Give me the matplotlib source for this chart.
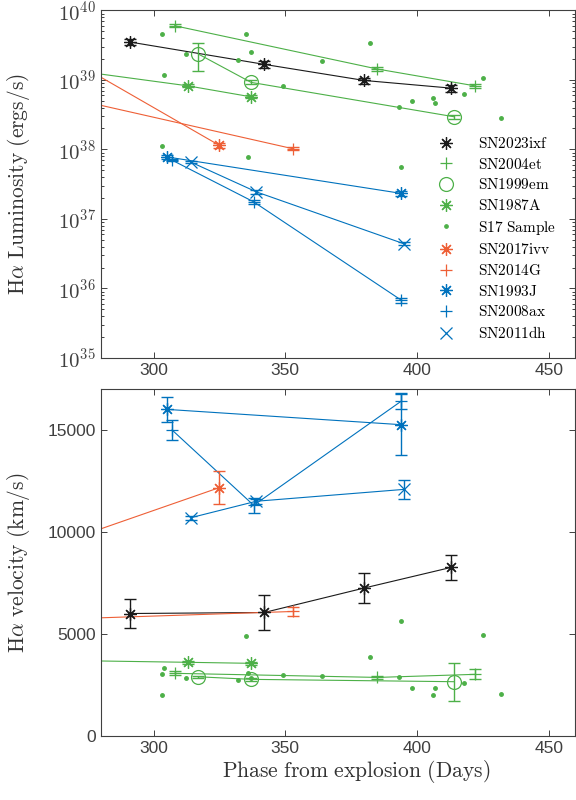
import numpy as np
import matplotlib
matplotlib.use("Agg")
import matplotlib.pyplot as plt
from matplotlib.lines import Line2D
from matplotlib.ticker import FixedLocator, LogLocator, FuncFormatter, NullFormatter

plt.rcParams["mathtext.fontset"] = "cm"
plt.rcParams["font.family"] = ["Liberation Sans", "DejaVu Sans"]

# ---------------------------------------------------------------- data
phase_min, phase_max = 280, 460

# SN2023ixf
ixf_phase = [291, 342, 380, 413]
ixf_lum = [3.5e39, 1.67e39, 9.8e38, 7.6e38]
ixf_lum_err = [0.38e39, 0.17e39, 0.10e39, 0.08e39]
ixf_vel = [6000, 6050, 7250, 8260]
ixf_vel_err = [690, 860, 740, 600]

# SN2004et
et_phase = [308, 385, 422]
et_lum = [6.0e39, 1.43e39, 8.2e38]
et_lum_err = [0.3e39, 0.08e39, 0.05e39]
et_vel = [3070, 2870, 3020]
et_vel_err = [100, 80, 250]

# SN1999em
em_phase = [317, 337, 414]
em_lum = [2.35e39, 9.2e38, 2.95e38]
em_lum_err = [1.0e39, 0.6e38, 0.2e38]
em_vel = [2900, 2775, 2660]
em_vel_err = [60, 80, 930]

# SN1987A (earlier epochs continue to the left of the window)
a87_phase = [phase_min, 313, 337]
a87_lum = [1.21e39, 8.2e38, 5.7e38]
a87_lum_err = [0.0, 0.4e38, 0.3e38]
a87_vel = [3674, 3610, 3560]
a87_vel_err = [0, 60, 80]

# S17 sample
s17_phase = [303.2, 303.2, 304.0, 312.2, 332.0, 335.0, 336.0, 337.1, 349.0, 364.0,
             382.0, 393.1, 394.1, 398.0, 406.0, 407.0, 418.0, 425.0, 432.0]
s17_lum = [4.6e39, 1.11e38, 1.16e39, 2.38e39, 1.91e39, 4.6e39, 7.9e37, 2.49e39, 8.2e38, 1.86e39,
           3.42e39, 4.1e38, 5.6e37, 4.95e38, 5.4e38, 4.6e38, 6.3e38, 1.05e39, 2.8e38]
s17_vel = [3049, 2002, 3315, 2852, 2739, 4888, 3098, 2823, 2970, 2936,
           3870, 2902, 5656, 2346, 2002, 2346, 2577, 4967, 2066]

# SN2017ivv
ivv_phase = [phase_min, 325]
ivv_lum = [1.09e39, 1.14e38]
ivv_lum_err = [0.0, 0.1e38]
ivv_vel = [10150, 12170]
ivv_vel_err = [0, 790]

# SN2014G
g14_phase = [phase_min, 353]
g14_lum = [4.3e38, 1.02e38]
g14_lum_err = [0.0, 0.05e38]
g14_vel = [5790, 6100]
g14_vel_err = [0, 230]

# SN1993J
j93_phase = [305, 394]
j93_lum = [7.8e37, 2.33e37]
j93_lum_err = [0.5e37, 0.2e37]
j93_vel = [16000, 15250]
j93_vel_err = [600, 1490]

# SN2008ax
ax08_phase = [307, 338, 394]
ax08_lum = [7.0e37, 1.76e37, 6.8e35]
ax08_lum_err = [0.3e37, 0.12e37, 0.6e35]
ax08_vel = [14990, 11300, 16400]
ax08_vel_err = [490, 380, 400]

# SN2011dh
dh11_phase = [314, 339, 395]
dh11_lum = [6.6e37, 2.45e37, 4.4e36]
dh11_lum_err = [0.2e37, 0.15e37, 0.2e36]
dh11_vel = [10690, 11500, 12080]
dh11_vel_err = [100, 120, 450]

x_ticks = [300, 350, 400, 450]
vel_ticks = [0, 5000, 10000, 15000]

# ---------------------------------------------------------------- styles
BLACK = "#1a1a1a"
GREEN = "#4DB048"
ORANGE = "#EE5F36"
BLUE = "#0072BD"
STAR = (8, 2, 0)

series = [
    # label, phase, lum, lum_err, vel, vel_err, colour, marker, first point drawn
    ("SN2023ixf", ixf_phase, ixf_lum, ixf_lum_err, ixf_vel, ixf_vel_err, BLACK, STAR, 0),
    ("SN2004et", et_phase, et_lum, et_lum_err, et_vel, et_vel_err, GREEN, "+", 0),
    ("SN1999em", em_phase, em_lum, em_lum_err, em_vel, em_vel_err, GREEN, "o", 0),
    ("SN1987A", a87_phase, a87_lum, a87_lum_err, a87_vel, a87_vel_err, GREEN, STAR, 1),
    ("SN2017ivv", ivv_phase, ivv_lum, ivv_lum_err, ivv_vel, ivv_vel_err, ORANGE, STAR, 1),
    ("SN2014G", g14_phase, g14_lum, g14_lum_err, g14_vel, g14_vel_err, ORANGE, "+", 1),
    ("SN1993J", j93_phase, j93_lum, j93_lum_err, j93_vel, j93_vel_err, BLUE, STAR, 0),
    ("SN2008ax", ax08_phase, ax08_lum, ax08_lum_err, ax08_vel, ax08_vel_err, BLUE, "+", 0),
    ("SN2011dh", dh11_phase, dh11_lum, dh11_lum_err, dh11_vel, dh11_vel_err, BLUE, "x", 0),
]

fig = plt.figure(figsize=(5.76, 8.0), dpi=100)
ax_l = fig.add_axes([0.1753, 0.5525, 0.8229, 0.4346])
ax_v = fig.add_axes([0.1753, 0.0800, 0.8229, 0.4338])

MS = 9
LW = 0.8


def draw(ax, x, y, yerr, colour, marker, start):
    x = np.asarray(x, float)
    y = np.asarray(y, float)
    yerr = np.asarray(yerr, float)
    ax.plot(x, y, color=colour, lw=LW, zorder=2)
    face = "none" if marker == "o" else colour
    ax.errorbar(x[start:], y[start:], yerr=yerr[start:], fmt="none", ecolor=colour,
                elinewidth=1.0, capsize=4.5, capthick=1.0, zorder=3)
    ax.plot(x[start:], y[start:], ls="none", marker=marker, ms=MS if marker != "o" else 10,
            mec=colour, mfc=face, mew=0.9, zorder=4)


for label, ph, lum, lerr, vel, verr, col, mk, st in series:
    draw(ax_l, ph, lum, lerr, col, mk, st)
    draw(ax_v, ph, vel, verr, col, mk, st)

ax_l.plot(s17_phase, s17_lum, ls="none", marker=".", ms=5, color=GREEN, zorder=3)
ax_v.plot(s17_phase, s17_vel, ls="none", marker=".", ms=5, color=GREEN, zorder=3)

# ---------------------------------------------------------------- axes
AXC = "#404040"
for ax in (ax_l, ax_v):
    ax.set_xlim(phase_min, phase_max)
    ax.xaxis.set_major_locator(FixedLocator(x_ticks))
    ax.tick_params(which="both", direction="in", top=True, right=True,
                   colors=AXC, labelsize=12.5, width=0.7)
    ax.tick_params(which="major", length=4.5)
    ax.tick_params(which="minor", length=2.5)
    for sp in ax.spines.values():
        sp.set_color(AXC)
        sp.set_linewidth(0.8)

ax_l.set_yscale("log")
ax_l.set_ylim(1e35, 1e40)
ax_l.yaxis.set_major_locator(LogLocator(base=10, numticks=10))
ax_l.yaxis.set_minor_locator(LogLocator(base=10, subs=np.arange(2, 10), numticks=20))
ax_l.yaxis.set_minor_formatter(NullFormatter())
ax_l.yaxis.set_major_formatter(
    FuncFormatter(lambda v, p: r"$\mathsf{10^{%d}}$" % int(round(np.log10(v)))))
ax_l.tick_params(axis="y", which="major", labelsize=15)

ax_v.set_ylim(0, 17000)
ax_v.yaxis.set_major_locator(FixedLocator(vel_ticks))

ax_l.set_ylabel(r"$\mathrm{H}\alpha\ \mathrm{Luminosity\ (ergs/s)}$", fontsize=15.5,
                color="#333333")
ax_v.set_ylabel(r"$\mathrm{H}\alpha\ \mathrm{velocity\ (km/s)}$", fontsize=15.5,
                color="#333333")
ax_v.set_xlabel(r"$\mathrm{Phase\ from\ explosion\ (Days)}$", fontsize=15.5,
                color="#333333")
ax_v.xaxis.set_label_coords(0.538, -0.062)
ax_l.yaxis.set_label_coords(-0.146, 0.5)
ax_v.yaxis.set_label_coords(-0.146, 0.5)

# ---------------------------------------------------------------- legend
handles = []
legend_items = [
    ("SN2023ixf", BLACK, STAR), ("SN2004et", GREEN, "+"), ("SN1999em", GREEN, "o"),
    ("SN1987A", GREEN, STAR), ("S17 Sample", GREEN, "."), ("SN2017ivv", ORANGE, STAR),
    ("SN2014G", ORANGE, "+"), ("SN1993J", BLUE, STAR), ("SN2008ax", BLUE, "+"),
    ("SN2011dh", BLUE, "x"),
]
for name, col, mk in legend_items:
    ms = 5 if mk == "." else (10 if mk == "o" else MS)
    handles.append(Line2D([], [], ls="none", marker=mk, ms=ms, mec=col,
                          mfc="none" if mk == "o" else col, mew=0.9,
                          label=r"$\mathrm{%s}$" % name.replace(" ", r"\ ")))
ax_l.legend(handles=handles, loc="lower right", bbox_to_anchor=(0.9726, 0.0316),
            frameon=False, fontsize=11, handlelength=1.6, handletextpad=1.29,
            labelspacing=0.37, borderaxespad=0.0)

fig.savefig("out.png", dpi=100)
